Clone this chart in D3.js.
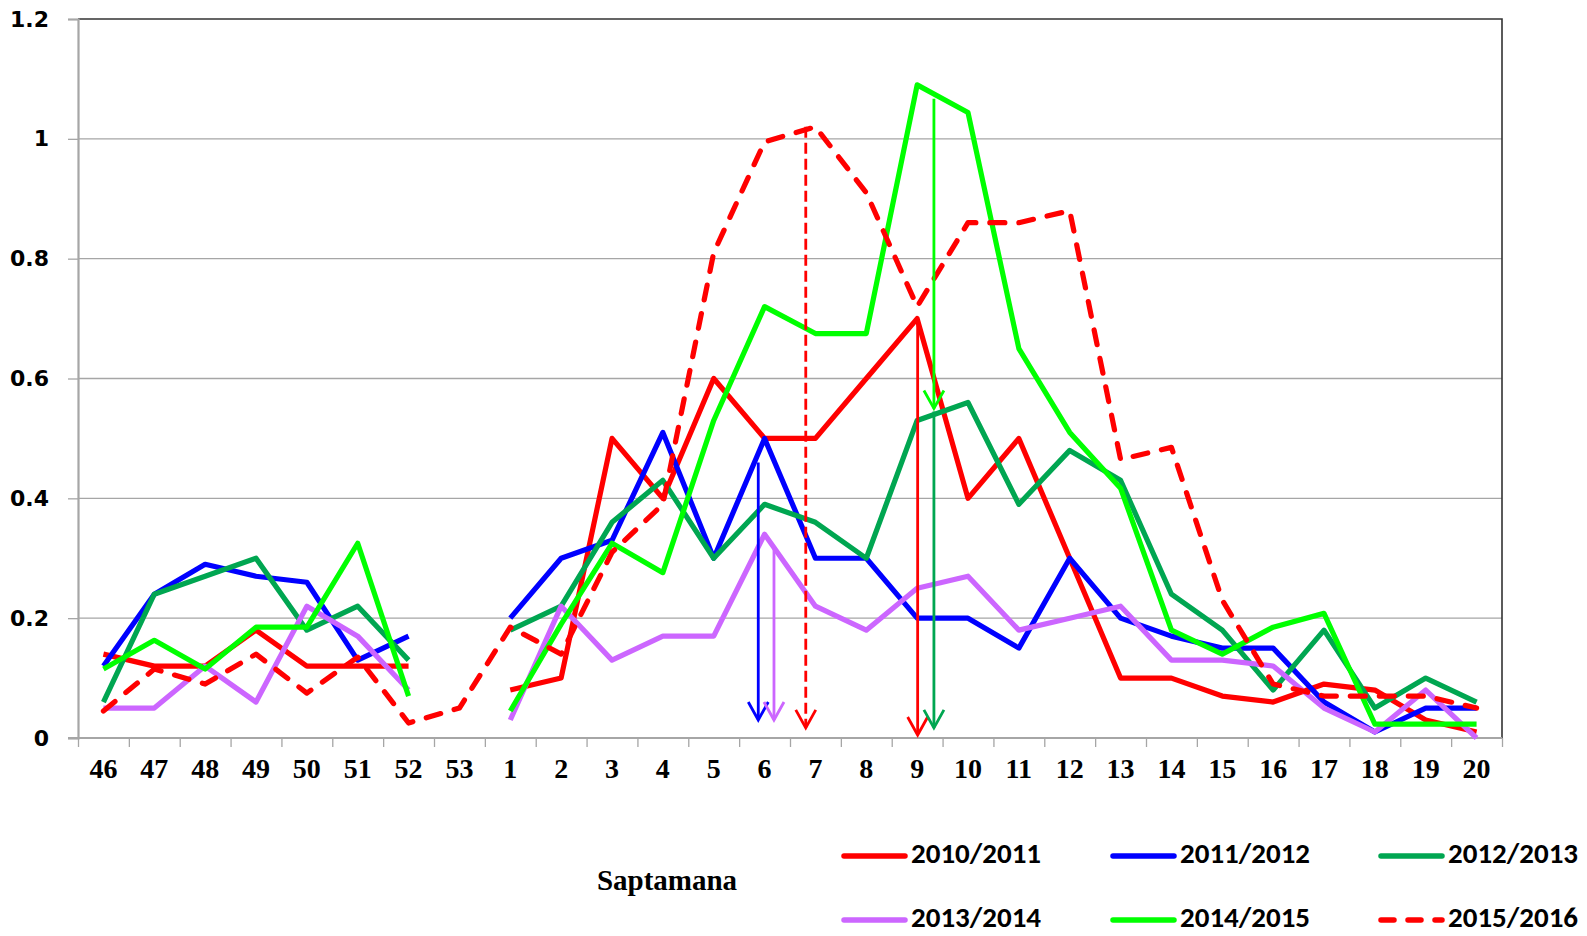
<!DOCTYPE html>
<html>
<head>
<meta charset="utf-8">
<script src="https://cdn.jsdelivr.net/npm/d3@7"></script>
<style>
  html, body { margin: 0; padding: 0; background: #ffffff; }
  svg { display: block; }
</style>
</head>
<body>
<svg id="chart" width="1587" height="936"></svg>
<script>
// ---------- data ----------
const categories = ["46","47","48","49","50","51","52","53",
  "1","2","3","4","5","6","7","8","9","10","11","12","13","14","15","16","17","18","19","20"];
const yTicks = [0, 0.2, 0.4, 0.6, 0.8, 1, 1.2];
const seriesNames = ["2010/2011","2011/2012","2012/2013","2013/2014","2014/2015","2015/2016"];
const s2010_2011 = [0.14,0.12,0.12,0.18,0.12,0.12,0.12,null,
  0.08,0.10,0.50,0.40,0.60,0.50,0.50,0.60,0.70,0.40,0.50,0.30,0.10,0.10,0.07,0.06,0.09,0.08,0.03,0.01];
const s2011_2012 = [0.12,0.24,0.29,0.27,0.26,0.13,0.17,null,
  0.20,0.30,0.33,0.51,0.30,0.50,0.30,0.30,0.20,0.20,0.15,0.30,0.20,0.17,0.15,0.15,0.06,0.01,0.05,0.05];
const s2012_2013 = [0.06,0.24,0.27,0.30,0.18,0.22,0.13,null,
  0.18,0.22,0.36,0.43,0.30,0.39,0.36,0.30,0.53,0.56,0.39,0.48,0.43,0.24,0.18,0.08,0.18,0.05,0.10,0.06];
const s2013_2014 = [0.05,0.05,0.12,0.06,0.22,0.17,0.08,null,
  0.03,0.22,0.13,0.17,0.17,0.34,0.22,0.18,0.25,0.27,0.18,0.20,0.22,0.13,0.13,0.12,0.05,0.01,0.08,0.00];
const s2014_2015 = [0.115,0.163,0.115,0.185,0.185,0.325,0.07,null,
  0.045,0.19,0.325,0.276,0.53,0.72,0.675,0.675,1.09,1.044,0.65,0.51,0.417,0.18,0.14,0.185,0.208,0.023,0.023,0.023];
const s2015_2016 = [0.045,0.115,0.09,0.14,0.075,0.135,0.025,0.05,
  0.185,0.14,0.31,0.39,0.81,0.995,1.02,0.91,0.72,0.86,0.86,0.88,0.465,0.485,0.23,0.09,0.07,0.07,0.07,0.05];
// peak markers: category, offset within band (fraction of band), from value, to value, series index
const arrowCats   = ["6","6","7","9","9","9"];
const arrowShift  = [-0.124, 0.185, -0.19, 0.01, 0.33, 0.33];
const arrowFrom   = [0.46, 0.317, 1.02, 0.70, 1.067, 0.545];
const arrowTo     = [0.03, 0.03, 0.017, 0.005, 0.55, 0.017];
const arrowSeries = [1, 3, 5, 0, 4, 2];
const xTitle = "Saptamana";

(function () {
// ---------- styles ----------
const colors = ["#ff0000","#0000ff","#00a651","#cc66ff","#00ff00","#ff0000"];
const dashedSeries = [false,false,false,false,false,true];
const allSeries = [s2010_2011, s2011_2012, s2012_2013, s2013_2014, s2014_2015, s2015_2016];

const mLeft = 78, mRight = 1502, mTop = 19, mBottom = 738;
const svg = d3.select("#chart");

const x = d3.scaleBand().domain(categories).range([mLeft, mRight]).paddingInner(0).paddingOuter(0);
const xIdx = d3.scaleLinear().domain([0, categories.length]).range([mLeft, mRight]);
const y = d3.scaleLinear().domain([0, 1.2]).range([mBottom, mTop]);

// gridlines
svg.append("g").selectAll("line").data(yTicks.filter(d => d > 0 && d < 1.2)).join("line")
  .attr("x1", mLeft).attr("x2", mRight)
  .attr("y1", d => y(d)).attr("y2", d => y(d))
  .attr("stroke", "#a6a6a6").attr("stroke-width", 1.3);

// plot border (top + right)
svg.append("path")
  .attr("d", `M${mLeft},${y(1.2)}H${mRight}V${mBottom}`)
  .attr("fill", "none").attr("stroke", "#333333").attr("stroke-width", 1.6);

// y axis
const yAxis = svg.append("g").attr("transform", `translate(${mLeft},0)`)
  .call(d3.axisLeft(y).tickValues(yTicks).tickSize(10).tickPadding(19)
    .tickFormat(d => String(+d.toFixed(1))));
yAxis.select(".domain").attr("stroke", "#a6a6a6").attr("stroke-width", 2.2);
yAxis.selectAll(".tick line").attr("stroke", "#a6a6a6").attr("stroke-width", 1.3);
yAxis.selectAll(".tick text").attr("font-family", "'DejaVu Sans', Verdana, sans-serif")
  .attr("font-weight", "bold").attr("font-size", 22).attr("fill", "#000");

// x axis: boundary ticks
const xTickAxis = svg.append("g").attr("transform", `translate(0,${mBottom})`)
  .call(d3.axisBottom(xIdx).tickValues(d3.range(0, categories.length + 1)).tickSize(9).tickFormat(""));
xTickAxis.select(".domain").remove();
xTickAxis.selectAll(".tick line").attr("stroke", "#a6a6a6").attr("stroke-width", 1.3);
svg.append("line").attr("x1", mLeft - 10).attr("x2", mRight).attr("y1", mBottom).attr("y2", mBottom)
  .attr("stroke", "#a6a6a6").attr("stroke-width", 2);

// x axis: labels
const xAxis = svg.append("g").attr("transform", `translate(0,${mBottom})`)
  .call(d3.axisBottom(x).tickSize(0));
xAxis.select(".domain").remove();
xAxis.selectAll(".tick text").attr("y", 40).attr("dy", 0)
  .attr("font-family", "'Liberation Serif', 'Times New Roman', serif")
  .attr("font-weight", "bold").attr("font-size", 28).attr("fill", "#000");

// series
const line = d3.line()
  .defined(d => d.v !== null)
  .x(d => x(d.c) + x.bandwidth() / 2)
  .y(d => y(d.v));

allSeries.forEach((vals, i) => {
  const pts = categories.map((c, k) => ({ c, v: vals[k] }));
  svg.append("path").datum(pts)
    .attr("d", line)
    .attr("fill", "none")
    .attr("stroke", colors[i])
    .attr("stroke-width", 5.2)
    .attr("stroke-linejoin", "round")
    .attr("stroke-linecap", dashedSeries[i] ? "round" : "butt")
    .attr("stroke-dasharray", dashedSeries[i] ? "15,14" : null);
});

// peak arrows
arrowCats.forEach((c, i) => {
  const ax = x(c) + x.bandwidth() * (0.5 + arrowShift[i]);
  const y0 = y(arrowFrom[i]), y1 = y(arrowTo[i]);
  const col = colors[arrowSeries[i]];
  const dashed = dashedSeries[arrowSeries[i]];
  const g = svg.append("g");
  g.append("line").attr("x1", ax).attr("x2", ax).attr("y1", y0).attr("y2", y1)
    .attr("stroke", col).attr("stroke-width", 2.8)
    .attr("stroke-dasharray", dashed ? "11,5" : null);
  g.append("path").attr("d", `M${ax - 10},${y1 - 18}L${ax},${y1}L${ax + 10},${y1 - 18}`)
    .attr("fill", "none").attr("stroke", col).attr("stroke-width", 2.8);
});

// x title
svg.append("text").attr("x", 667).attr("y", 890).attr("text-anchor", "middle")
  .attr("font-family", "'Liberation Serif', 'Times New Roman', serif")
  .attr("font-weight", "bold").attr("font-size", 29).attr("fill", "#000")
  .text(xTitle);

// legend
const legX = [841, 1110, 1378];
const legY = [856, 920];
seriesNames.forEach((name, i) => {
  const lx = legX[i % 3], ly = legY[Math.floor(i / 3)];
  svg.append("line").attr("x1", lx + 3).attr("x2", lx + 64).attr("y1", ly).attr("y2", ly)
    .attr("stroke", colors[i]).attr("stroke-width", 5.5).attr("stroke-linecap", "round")
    .attr("stroke-dasharray", dashedSeries[i] ? "13,14" : null);
  svg.append("text").attr("x", lx + 70).attr("y", ly + 7)
    .attr("font-family", "Carlito, Lato, sans-serif").attr("font-weight", "bold")
    .attr("font-size", 29).attr("fill", "#000")
    .text(name);
});
})();
</script>
</body>
</html>
